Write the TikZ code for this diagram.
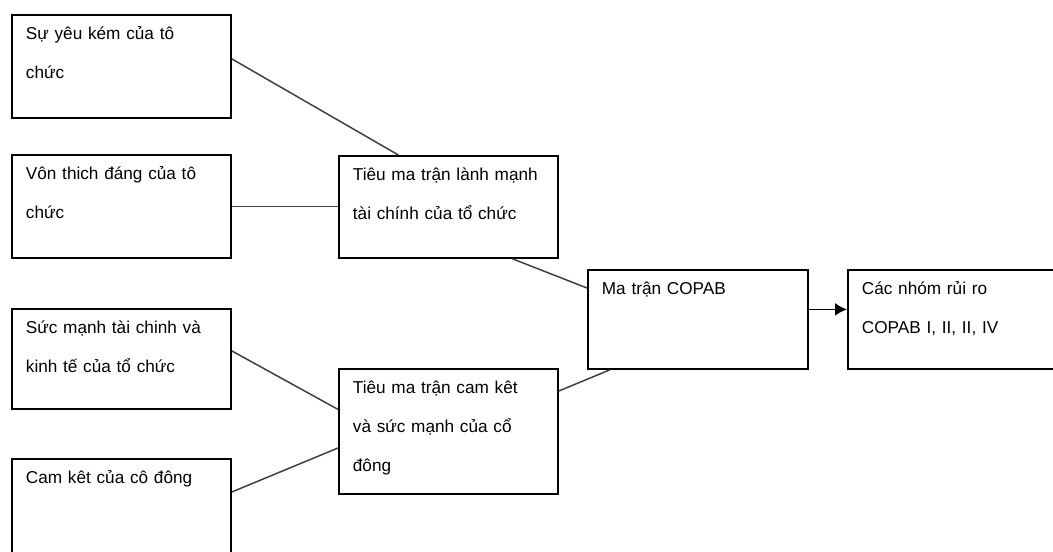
\documentclass[tikz,border=0pt]{standalone}
\usepackage{fontspec}
\setmainfont{Liberation Sans}
\usetikzlibrary{arrows.meta}
\tikzset{
  box/.style={draw, line width=0.9pt, anchor=north west, align=left,
    inner xsep=7pt, inner ysep=0pt, text width=95.5pt, text height=12.5pt,
    font={\fontsize{8.6pt}{19.5pt}\selectfont}},
  link/.style={line width=0.75pt, black!75},
}
\begin{document}
\begin{tikzpicture}[x=0.5pt,y=-0.5pt]
        \useasboundingbox (0,0) rectangle (1053,551);
        %% left column
        \node[box, text depth=39pt]   (weak)     at (11,14)  {Sự yêu kém của tô\\chức};
        \node[box, text depth=39pt]   (capital)  at (11,154) {Vôn thich đáng của tô\\chức};
        \node[box, text depth=37.5pt] (strength) at (11,308) {Sức mạnh tài chinh và\\kinh tế của tổ chức};
        \node[box, text depth=42.5pt] (commit)   at (11,458) {Cam kêt của cô đông};
        %% sub matrices
        \node[box, text depth=38.5pt] (health)    at (338,155) {Tiêu ma trận lành mạnh\\tài chính của tổ chức};
        \node[box, text depth=50pt]   (commitsub) at (338,368) {Tiêu ma trận cam kêt\\và sức mạnh của cổ\\đông};
        %% matrix and result
        \node[box, text width=96pt, text depth=37pt] (copab)  at (587,269) {Ma trận COPAB};
        \node[box, text width=96pt, text depth=37pt] (groups) at (847,269) {Các nhóm rủi ro\\COPAB I, II, II, IV};
        %% links
        \draw[link] ([yshift=3.75pt]weak.east) -- ([xshift=-25pt]health.north);
        \draw[link] (capital.east) -- (capital.east -| health.west);
        \draw[link] ([yshift=4pt]strength.east) -- ([yshift=11pt]commitsub.west);
        \draw[link] ([yshift=-17pt]commit.north east) -- ([yshift=-40pt]commitsub.north west);
        \draw[link] ([xshift=32pt]health.south) -- ([yshift=-9.5pt]copab.north west);
        \draw[link] ([yshift=-11.5pt]commitsub.north east) -- ([xshift=11.5pt]copab.south west);
        \draw[line width=0.9pt,-{Latex[length=6pt,width=6.5pt]}] ([yshift=5pt]copab.east) -- ([yshift=5pt]groups.west);
    \end{tikzpicture}
\end{document}
